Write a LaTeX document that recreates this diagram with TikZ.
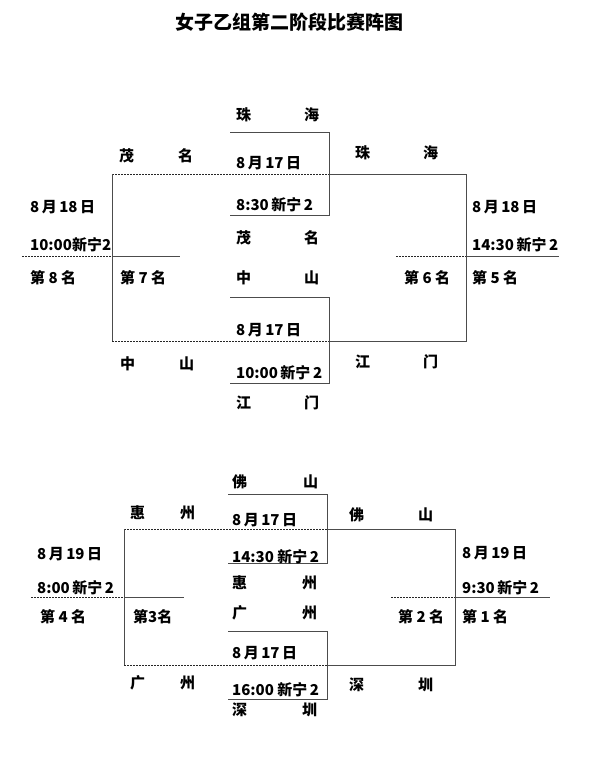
\documentclass[tikz,border=0pt]{standalone}
\usepackage{fontspec}
\setmainfont{Noto Sans CJK SC}

\tikzset{
  lbl/.style={anchor=west,inner sep=0pt,font=\bfseries\fontsize{15}{15}\selectfont},
  solidline/.style={draw=black!70,line width=0.9pt},
  dotline/.style={draw=black!85,line width=0.9pt,dash pattern=on 1.6pt off 1.4pt},
}
% two characters set apart, the first in a box of width #1
\newcommand\duo[3]{\makebox[#1][l]{#2}#3}

\begin{document}
\begin{tikzpicture}[x=1pt,y=-1pt]
  \useasboundingbox (0,0) rectangle (597,773);

  \node[font=\bfseries\fontsize{19}{19}\selectfont] (title) at (289,22) {女子乙组第二阶段比赛阵图};

  % top bracket
  \coordinate (p1) at (230,132); \coordinate (p2) at (230,215);
  \coordinate (p3) at (230,297); \coordinate (p4) at (230,383);
  \draw[solidline] (p1) -- ++(99,0) |- (p2);
  \draw[solidline] (p3) -- ++(99,0) |- (p4);

  \coordinate (q1) at (112,174); \coordinate (q2) at (329,174); \coordinate (q3) at (466,174);
  \coordinate (q4) at (112,341); \coordinate (q5) at (329,341); \coordinate (q6) at (466,341);
  \draw[dotline] (q1) -- (q2);
  \draw[dotline] (q4) -- (q5);
  \draw[solidline] (q2) -- (q3) -- (q6) -- (q5);
  \draw[solidline] (q1) -- (q4);

  \coordinate (w1) at (22,256); \coordinate (w2) at (112,256); \coordinate (w3) at (180,256);
  \draw[dotline] (w1) -- (w2);
  \draw[solidline] (w2) -- (w3);
  \coordinate (e1) at (396,256); \coordinate (e2) at (466,256); \coordinate (e3) at (559,256);
  \draw[dotline] (e1) -- (e2);
  \draw[solidline] (e2) -- (e3);

  \node[lbl] (zh1) at (236,115) {\duo{68pt}{珠}{海}};
  \node[lbl] (mm1) at (119,156) {\duo{59pt}{茂}{名}};
  \node[lbl] (d1) at (236,163) {8\,月\,17\,日};
  \node[lbl] (t1) at (236,205) {8:30\,新宁\,2};
  \node[lbl] (mm2) at (236,238) {\duo{68pt}{茂}{名}};
  \node[lbl] (zs1) at (236,278) {\duo{68pt}{中}{山}};
  \node[lbl] (d2) at (236,330) {8\,月\,17\,日};
  \node[lbl] (t2) at (236,373) {10:00\,新宁\,2};
  \node[lbl] (jm1) at (236,403) {\duo{68pt}{江}{门}};
  \node[lbl] (zs2) at (120,364) {\duo{59pt}{中}{山}};
  \node[lbl] (zh2) at (355,153) {\duo{68pt}{珠}{海}};
  \node[lbl] (jm2) at (355,362) {\duo{68pt}{江}{门}};
  \node[lbl] (d3) at (30,207) {8\,月\,18\,日};
  \node[lbl] (t3) at (30,245) {10:00新宁2};
  \node[lbl] (r8) at (30,278) {第 8 名};
  \node[lbl] (r7) at (120,278) {第 7 名};
  \node[lbl] (d4) at (472,207) {8\,月\,18\,日};
  \node[lbl] (t4) at (472,245) {14:30\,新宁\,2};
  \node[lbl] (r6) at (404,278) {第 6 名};
  \node[lbl] (r5) at (472,278) {第 5 名};

  % bottom bracket
  \coordinate (p5) at (228,494); \coordinate (p6) at (228,563);
  \coordinate (p7) at (228,631); \coordinate (p8) at (228,699);
  \draw[solidline] (p5) -- ++(99,0) |- (p6);
  \draw[solidline] (p7) -- ++(99,0) |- (p8);

  \coordinate (s1) at (124,529); \coordinate (s2) at (327,529); \coordinate (s3) at (455,529);
  \coordinate (s4) at (124,665); \coordinate (s5) at (327,665); \coordinate (s6) at (455,665);
  \draw[dotline] (s1) -- (s2);
  \draw[dotline] (s4) -- (s5);
  \draw[solidline] (s2) -- (s3) -- (s6) -- (s5);
  \draw[solidline] (s1) -- (s4);

  \coordinate (w4) at (31,597); \coordinate (w5) at (124,597); \coordinate (w6) at (184,597);
  \draw[dotline] (w4) -- (w5);
  \draw[solidline] (w5) -- (w6);
  \coordinate (e4) at (391,597); \coordinate (e5) at (455,597); \coordinate (e6) at (550,597);
  \draw[dotline] (e4) -- (e5);
  \draw[solidline] (e5) -- (e6);

  \node[lbl] (fs1) at (232,482) {\duo{71pt}{佛}{山}};
  \node[lbl] (hz1) at (130,513) {\duo{50pt}{惠}{州}};
  \node[lbl] (d5) at (232,520) {8\,月\,17\,日};
  \node[lbl] (t5) at (232,557) {14:30 新宁\,2};
  \node[lbl] (hz2) at (232,583) {\duo{70pt}{惠}{州}};
  \node[lbl] (gz1) at (232,613) {\duo{70pt}{广}{州}};
  \node[lbl] (d6) at (232,653) {8\,月\,17\,日};
  \node[lbl] (t6) at (232,690) {16:00 新宁\,2};
  \node[lbl] (sz1) at (232,710) {\duo{70pt}{深}{圳}};
  \node[lbl] (gz2) at (130,683) {\duo{50pt}{广}{州}};
  \node[lbl] (d7) at (37,554) {8\,月\,19\,日};
  \node[lbl] (t7) at (37,588) {8:00\,新宁\,2};
  \node[lbl] (r4) at (40,617) {第 4 名};
  \node[lbl] (r3) at (133,617) {第3名};
  \node[lbl] (fs2) at (349,515) {\duo{69pt}{佛}{山}};
  \node[lbl] (d8) at (462,553) {8\,月\,19\,日};
  \node[lbl] (t8) at (462,588) {9:30\,新宁\,2};
  \node[lbl] (r2) at (398,617) {第 2 名};
  \node[lbl] (r1) at (462,617) {第 1 名};
  \node[lbl] (sz2) at (349,685) {\duo{69pt}{深}{圳}};
\end{tikzpicture}
\end{document}
